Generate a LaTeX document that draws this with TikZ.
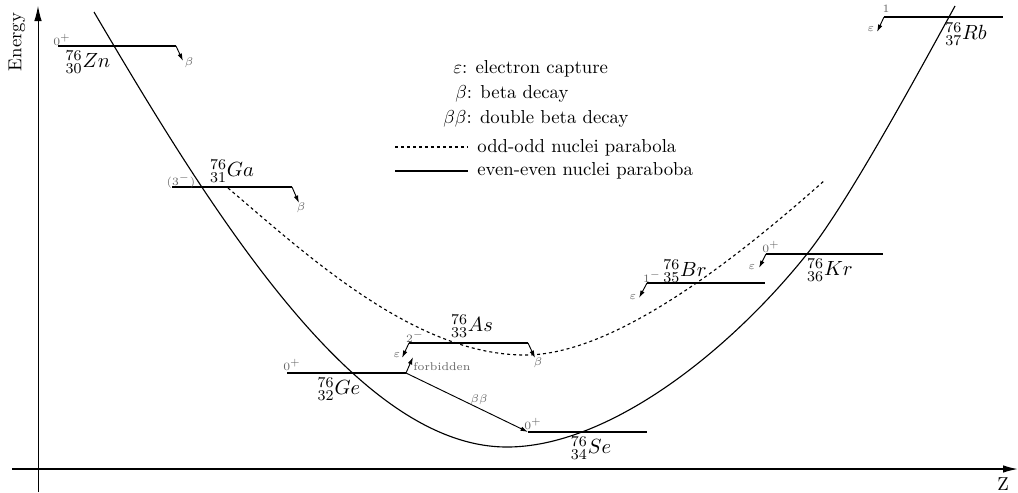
\documentclass[tikz,border=0pt]{standalone}
\usetikzlibrary{arrows.meta}
\begin{document}
\begin{tikzpicture}[x=0.01875cm,y=-0.01875cm,
  level/.style={line width=1pt},
  decay/.style={line width=0.5pt,-{Latex[length=4pt,width=2.4pt]}},
  small/.style={font=\fontsize{6}{7}\selectfont,text=black!60,inner sep=0.5pt},
  nuc/.style={font=\fontsize{11}{13}\selectfont,inner sep=0pt},
  leg/.style={font=\normalsize,inner sep=0pt,anchor=base west},
  curve/.style={line width=0.6pt},
  oddcurve/.style={line width=0.6pt,dash pattern=on 1.6pt off 1.6pt},
  axis/.style={-{Latex[length=8pt,width=4pt]}}]
\useasboundingbox (0,0) rectangle (1018,492);
% axes
\coordinate (Ybot) at (38,492);
\coordinate (Ytop) at (38,6);
\coordinate (Xbeg) at (12,469);
\coordinate (Xend) at (1018,469);
\draw[axis,line width=0.5pt] (Ybot) -- (Ytop);
\draw[axis,line width=0.8pt] (Xbeg) -- (Xend);
\node[rotate=90] (elab) at (17,42) {Energy};
\node (zlab) at (1003,484) {Z};
% parabolas
\coordinate (EvA) at (94,12);
\coordinate (EvMin) at (507,447);
\coordinate (EvM) at (807,254);
\coordinate (EvB) at (955,6);
\draw[curve] (EvA) .. controls (214,216) and (357,447) .. (EvMin)
  .. controls (607,447) and (727,354) .. (EvM)
  .. controls (847,204) and (915,79) .. (EvB);
\coordinate (OdA) at (228,188);
\coordinate (OdMin) at (525,355);
\coordinate (OdB) at (825,180);
\draw[oddcurve] (OdA) .. controls (308,256) and (415,355) .. (OdMin)
  .. controls (610,355) and (725,269) .. (OdB);
% legend
\node[leg] (l1) at (453,73) {$\varepsilon$: electron capture};
\node[leg] (l2) at (455,98) {$\beta$: beta decay};
\node[leg] (l3) at (443,123) {$\beta\beta$: double beta decay};
\coordinate (d1) at (395,147);
\coordinate (d2) at (468,147);
\draw[oddcurve] (d1) -- (d2);
\node[leg] (l4) at (477,152) {odd-odd nuclei parabola};
\coordinate (s1) at (395,171);
\coordinate (s2) at (468,171);
\draw[curve] (s1) -- (s2);
\node[leg] (l5) at (477,175) {even-even nuclei paraboba};
% Zn
\coordinate (ZnL) at (58,46);
\coordinate (ZnR) at (176,46);
\coordinate (ZnB) at (183,61);
\draw[level] (ZnL) -- (ZnR);
\draw[decay] (ZnR) -- (ZnB);
\node[small] (ZnBl) at (189,63) {$\beta$};
\node[small] (ZnS) at (62,40) {$0^+$};
\node[nuc] (Zn) at (88,62) {${}^{76}_{30}Zn$};
% Ga
\coordinate (GaL) at (172,187);
\coordinate (GaR) at (292,187);
\coordinate (GaB) at (299,203);
\draw[level] (GaL) -- (GaR);
\draw[decay] (GaR) -- (GaB);
\node[small] (GaBl) at (301,208) {$\beta$};
\node[small] (GaS) at (181,181) {$(3^-)$};
\node[nuc] (Ga) at (232,171) {${}^{76}_{31}Ga$};
% As
\coordinate (AsL) at (409,343);
\coordinate (AsR) at (528,343);
\coordinate (AsE) at (402,358);
\coordinate (AsB) at (535,358);
\draw[level] (AsL) -- (AsR);
\draw[decay] (AsL) -- (AsE);
\draw[decay] (AsR) -- (AsB);
\node[small] (AsEl) at (397,355) {$\varepsilon$};
\node[small] (AsBl) at (538,363) {$\beta$};
\node[small] (AsS) at (415,337) {$2^-$};
\node[nuc] (As) at (472,326) {${}^{76}_{33}As$};
% Ge
\coordinate (GeL) at (287,373);
\coordinate (GeR) at (406,373);
\coordinate (GeF) at (413,357);
\draw[level] (GeL) -- (GeR);
\draw[decay] (GeR) -- (GeF);
\node[small,anchor=west,inner sep=0pt] (forb) at (413,367) {forbidden};
\node[small] (GeS) at (292,365) {$0^+$};
\node[nuc] (Ge) at (339,389) {${}^{76}_{32}Ge$};
% Se
\coordinate (SeL) at (528,432);
\coordinate (SeR) at (647,432);
\draw[level] (SeL) -- (SeR);
\draw[decay] (GeR) -- (SeL);
\node[small] (bb) at (479,400) {$\beta\beta$};
\node[small] (SeS) at (533,424) {$0^+$};
\node[nuc] (Se) at (591,448) {${}^{76}_{34}Se$};
% Br
\coordinate (BrL) at (647,283);
\coordinate (BrR) at (765,283);
\coordinate (BrE) at (639,298);
\draw[level] (BrL) -- (BrR);
\draw[decay] (BrL) -- (BrE);
\node[small] (BrEl) at (633,297) {$\varepsilon$};
\node[small] (BrS) at (652,277) {$1^-$};
\node[nuc] (Br) at (685,271) {${}^{76}_{35}Br$};
% Kr
\coordinate (KrL) at (766,254);
\coordinate (KrR) at (883,254);
\coordinate (KrE) at (759,268);
\draw[level] (KrL) -- (KrR);
\draw[decay] (KrL) -- (KrE);
\node[small] (KrEl) at (752,267) {$\varepsilon$};
\node[small] (KrS) at (771,247) {$0^+$};
\node[nuc] (Kr) at (830,270) {${}^{76}_{36}Kr$};
% Rb
\coordinate (RbL) at (884,17);
\coordinate (RbR) at (1003,17);
\coordinate (RbE) at (877,32);
\draw[level] (RbL) -- (RbR);
\draw[decay] (RbL) -- (RbE);
\node[small] (RbEl) at (871,29) {$\varepsilon$};
\node[small] (RbS) at (886,9) {$1$};
\node[nuc] (Rb) at (966,34) {${}^{76}_{37}Rb$};
\end{tikzpicture}
\end{document}
